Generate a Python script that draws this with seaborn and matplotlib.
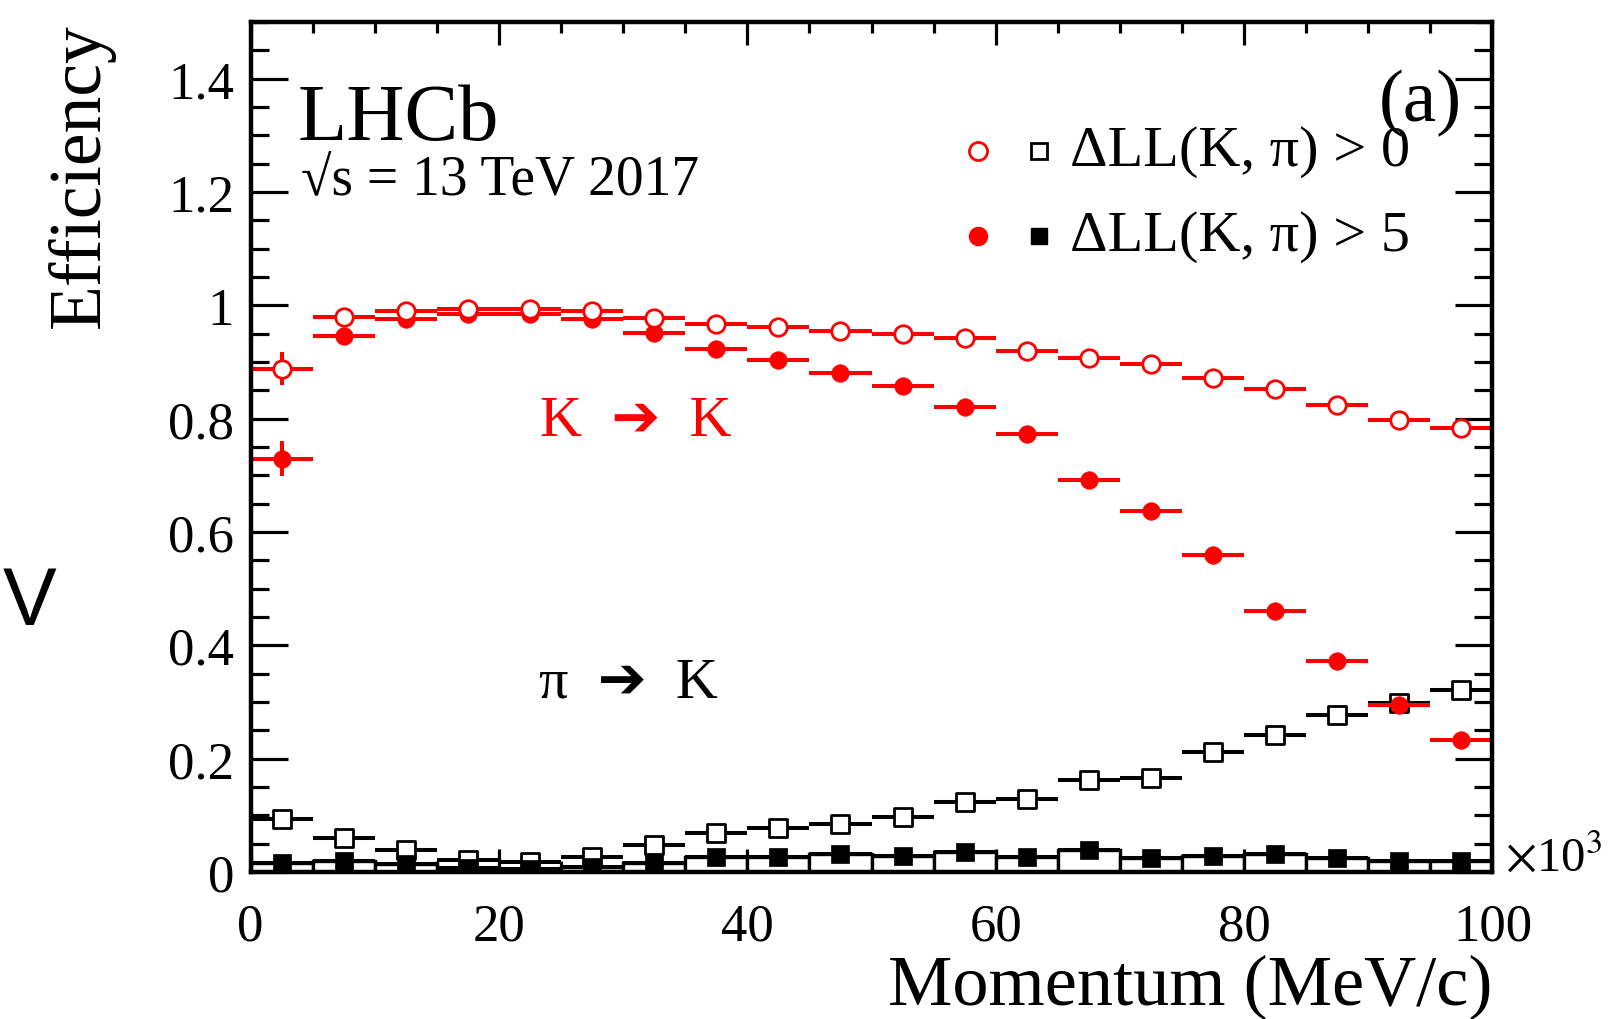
import numpy as np
import pandas as pd
import matplotlib
matplotlib.use("Agg")
import matplotlib.pyplot as plt
from matplotlib.ticker import MultipleLocator, FormatStrFormatter
import seaborn as sns

# ---------------- data ----------------
bin_centers = [2.5, 7.5, 12.5, 17.5, 22.5, 27.5, 32.5, 37.5, 42.5, 47.5,
               52.5, 57.5, 62.5, 67.5, 72.5, 77.5, 82.5, 87.5, 92.5, 97.5]
bin_halfwidth = 2.5

kaon_dll0 = [0.888, 0.980, 0.989, 0.994, 0.993, 0.989, 0.978, 0.967, 0.962, 0.954,
             0.949, 0.943, 0.919, 0.907, 0.896, 0.872, 0.853, 0.824, 0.797, 0.784]
kaon_dll0_err = [0.029] + [0.004] * 19

kaon_dll5 = [0.729, 0.945, 0.976, 0.984, 0.984, 0.976, 0.951, 0.923, 0.903, 0.881,
             0.857, 0.821, 0.773, 0.692, 0.637, 0.559, 0.460, 0.372, 0.295, 0.233]
kaon_dll5_err = [0.031] + [0.004] * 19

pion_dll0 = [0.093, 0.060, 0.038, 0.022, 0.018, 0.026, 0.048, 0.068, 0.077, 0.084,
             0.097, 0.123, 0.128, 0.163, 0.165, 0.211, 0.242, 0.277, 0.299, 0.321]
pion_dll5 = [0.016, 0.020, 0.015, 0.007, 0.005, 0.009, 0.016, 0.026, 0.027, 0.031,
             0.029, 0.035, 0.026, 0.038, 0.024, 0.029, 0.031, 0.024, 0.020, 0.020]
pion_err = [0.003] * 20

x_ticks = [0, 20, 40, 60, 80, 100]
y_ticks = [0, 0.2, 0.4, 0.6, 0.8, 1.0, 1.2, 1.4]

df = pd.DataFrame({
    "p": bin_centers,
    "k0": kaon_dll0, "k5": kaon_dll5,
    "pi0": pion_dll0, "pi5": pion_dll5,
})

# ---------------- style ----------------
sns.set_theme(style="ticks")
plt.rcParams["font.family"] = ["Liberation Serif", "DejaVu Serif", "DejaVu Sans"]
plt.rcParams["mathtext.fontset"] = "stix"
for key in ["text.color", "axes.labelcolor", "xtick.color", "ytick.color", "axes.edgecolor"]:
    plt.rcParams[key] = "black"

fig = plt.figure(figsize=(16.24, 10.20), dpi=100)
ax = fig.add_axes([0.1543, 0.1441, 0.9190 - 0.1543, 0.9776 - 0.1441])
ax.set_facecolor("white")

xerr = [bin_halfwidth] * len(bin_centers)
lw_err = 2.9
ms = 12.6
s_pts = ms ** 2

# black open squares (pi -> K, DLL>0)
ax.errorbar(df["p"], df["pi0"], xerr=xerr, yerr=pion_err, fmt="none",
            ecolor="black", elinewidth=lw_err, capsize=0, zorder=2)
sns.scatterplot(data=df, x="p", y="pi0", ax=ax, marker="s", s=s_pts,
                facecolor="white", edgecolor="black", linewidth=2.0, zorder=2.5, legend=False)

# white-filled outline bars (histogram frame of pi DLL>5)
ax.bar(df["p"], df["pi5"], width=2 * bin_halfwidth, color="white",
       edgecolor="black", linewidth=2.4, zorder=3)

# black filled squares (pi -> K, DLL>5)
ax.errorbar(df["p"], df["pi5"], xerr=xerr, yerr=pion_err, fmt="none",
            ecolor="black", elinewidth=lw_err, capsize=0, zorder=4)
sns.scatterplot(data=df, x="p", y="pi5", ax=ax, marker="s", s=s_pts,
                color="black", edgecolor="black", linewidth=0.5, zorder=4.5, legend=False)

# red filled circles (K -> K, DLL>5)
ax.errorbar(df["p"], df["k5"], xerr=xerr, yerr=kaon_dll5_err, fmt="none",
            ecolor="red", elinewidth=lw_err, capsize=0, zorder=5)
sns.scatterplot(data=df, x="p", y="k5", ax=ax, marker="o", s=s_pts,
                color="red", edgecolor="red", linewidth=0.5, zorder=5.5, legend=False)

# red open circles (K -> K, DLL>0)
ax.errorbar(df["p"], df["k0"], xerr=xerr, yerr=kaon_dll0_err, fmt="none",
            ecolor="red", elinewidth=lw_err, capsize=0, zorder=6)
sns.scatterplot(data=df, x="p", y="k0", ax=ax, marker="o", s=s_pts,
                facecolor="white", edgecolor="red", linewidth=2.0, zorder=6.5, legend=False)

# ---------------- axes ----------------
ax.set_xlim(0, 100)
ax.set_ylim(0, 1.5)
ax.set_xticks(x_ticks)
ax.set_yticks(y_ticks)
ax.yaxis.set_major_formatter(FormatStrFormatter("%g"))
ax.xaxis.set_minor_locator(MultipleLocator(5))
ax.yaxis.set_minor_locator(MultipleLocator(0.05))
for sp in ax.spines.values():
    sp.set_visible(True)
    sp.set_linewidth(3.2)
    sp.set_color("black")
    sp.set_zorder(10)

ax.tick_params(axis="both", which="both", direction="in", top=True, right=True,
               colors="black", width=2.3, labelsize=38)
ax.tick_params(axis="x", which="major", length=16.5, pad=22)
ax.tick_params(axis="x", which="minor", length=8)
ax.tick_params(axis="y", which="major", length=26.5, pad=12)
ax.tick_params(axis="y", which="minor", length=13)

ax.set_xlabel("Momentum (MeV/c)", fontsize=52, loc="right", labelpad=2)
ax.set_ylabel("Efficiency", fontsize=53, loc="top", labelpad=38)
ax.grid(False)

# ---------------- texts ----------------
ax.text(0.038, 0.862, "LHCb", transform=ax.transAxes, fontsize=58,
        ha="left", va="baseline")
ax.text(0.041, 0.797, "\u221As = 13 TeV 2017", transform=ax.transAxes, fontsize=40,
        ha="left", va="baseline")
ax.text(0.942, 0.905, "(a)", transform=ax.transAxes, fontsize=54,
        ha="center", va="center")

ax.text(0.233, 0.530, "K  ➔  K", transform=ax.transAxes, fontsize=42, color="red",
        ha="left", va="center", family=["Liberation Serif", "DejaVu Sans"])
ax.text(0.232, 0.223, "π  ➔  K", transform=ax.transAxes, fontsize=42, color="black",
        ha="left", va="center", family=["Liberation Serif", "DejaVu Sans"])

# legend
ax.plot([0.5857], [0.848], transform=ax.transAxes, marker="o", ms=13, mfc="white",
        mec="red", mew=2.0, ls="none", clip_on=False, zorder=12)
ax.plot([0.635], [0.848], transform=ax.transAxes, marker="s", ms=11.5, mfc="white",
        mec="black", mew=2.0, ls="none", clip_on=False, zorder=12)
ax.text(0.6598, 0.848, "ΔLL(K, π) > 0", transform=ax.transAxes, fontsize=42,
        ha="left", va="center")
ax.plot([0.5857], [0.748], transform=ax.transAxes, marker="o", ms=13, mfc="red",
        mec="red", mew=1.0, ls="none", clip_on=False, zorder=12)
ax.plot([0.635], [0.748], transform=ax.transAxes, marker="s", ms=11.5, mfc="black",
        mec="black", mew=1.0, ls="none", clip_on=False, zorder=12)
ax.text(0.6598, 0.748, "ΔLL(K, π) > 5", transform=ax.transAxes, fontsize=42,
        ha="left", va="center")

fig.text(1505 / 1624, 1 - 858 / 1020, r"$\times$10$^{3}$", fontsize=35,
         ha="left", va="center")
fig.text(30 / 1624, 1 - 604 / 1020, "V", fontsize=58, family="Liberation Sans",
         ha="center", va="center")

fig.savefig("out.png", dpi=100, facecolor="white")
